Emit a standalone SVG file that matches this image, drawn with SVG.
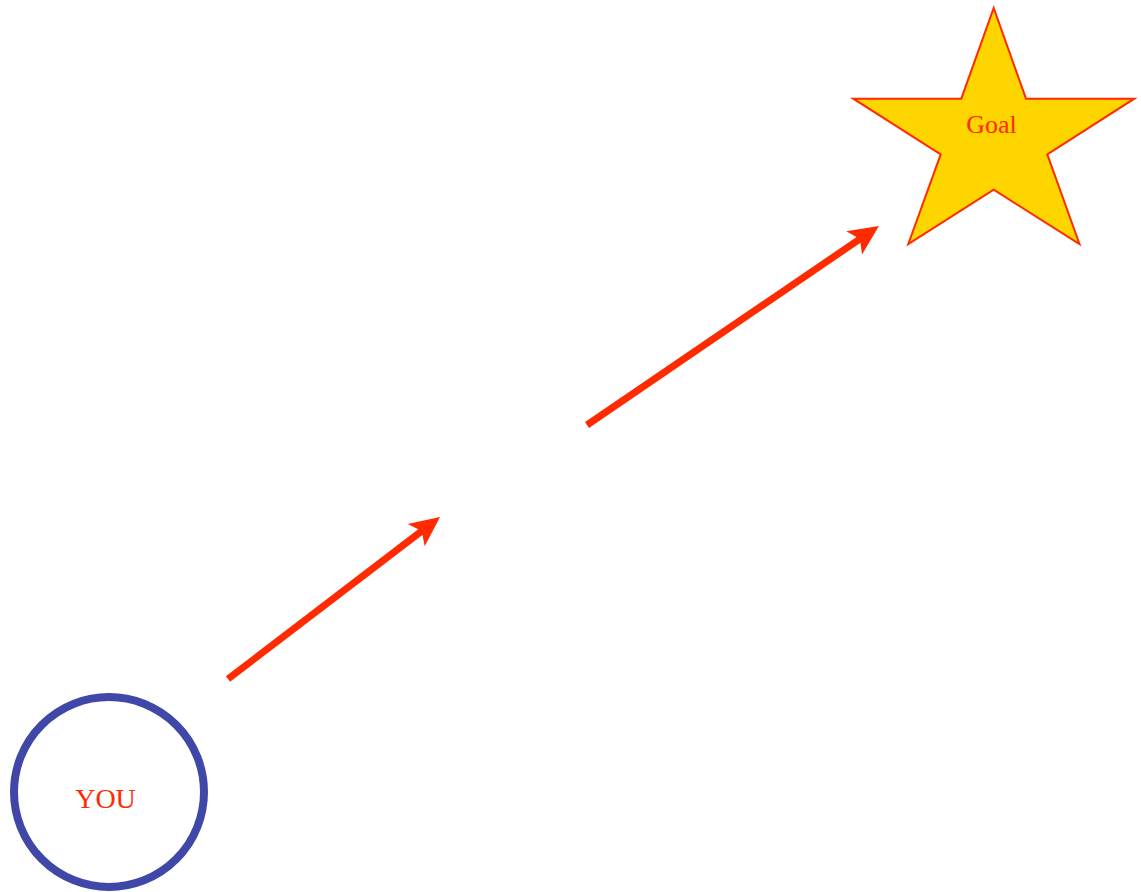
<svg xmlns="http://www.w3.org/2000/svg" width="1141" height="892" viewBox="0 0 1141 892">
<style>
.lbl{font-family:"Liberation Serif","Times New Roman",serif;fill:#FF2A00;text-anchor:middle}
.conn{stroke:#FF2A00;stroke-width:7;fill:none;marker-end:url(#ah)}
</style>
<defs>
<marker id="ah" markerUnits="userSpaceOnUse" markerWidth="32" markerHeight="30" refX="20" refY="14" orient="auto" overflow="visible">
<path d="M0,0 L30,14 L0,28 L7,14 z" fill="#FF2A00"/>
</marker>
</defs>
<rect width="1141" height="892" fill="#fff"/>
<g id="goal">
<polygon points="993.7,8 1026,98.7 1134.3,98.7 1047.3,154.3 1079.5,244 993.7,189.7 908.3,244 940.7,154.3 853.3,98.7 961.3,98.7" fill="#FFD500" stroke="#FF2A00" stroke-width="2"/>
<text class="lbl" x="991.5" y="133" font-size="26">Goal</text>
</g>
<g id="you">
<circle cx="109" cy="792" r="95" fill="#fff" stroke="#3F48A8" stroke-width="8"/>
<text class="lbl" x="105.5" y="807.5" font-size="28">YOU</text>
</g>
<g id="connectors">
<line class="conn" x1="228" y1="679" x2="432.1" y2="523.1"/>
<line class="conn" x1="587" y1="425" x2="870.7" y2="231.6"/>
</g>
</svg>
